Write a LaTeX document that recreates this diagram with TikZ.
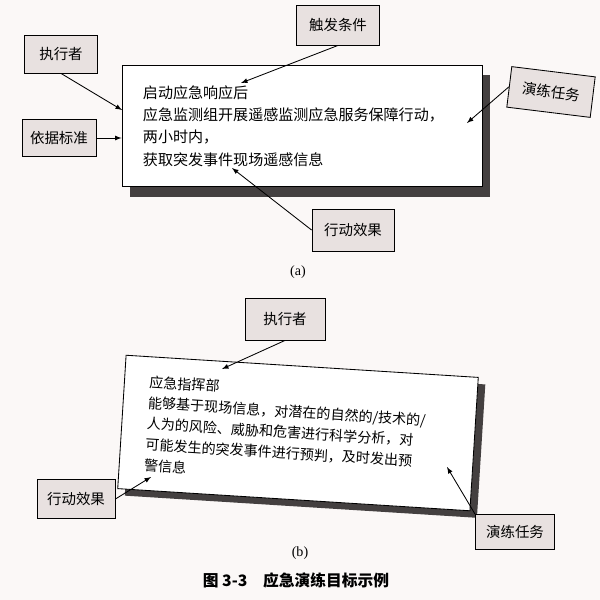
\documentclass[tikz,border=0pt]{standalone}
\usepackage{fontspec}
\setmainfont{Liberation Serif}
\newfontfamily\cjk{Noto Sans CJK SC}
\usetikzlibrary{shadows}
\definecolor{tagfill}{RGB}{232,225,224}
\definecolor{shadowgray}{RGB}{68,64,64}
\definecolor{paper}{RGB}{251,248,247}

\begin{document}
\begin{tikzpicture}[>=latex, x=0.025cm, y=-0.025cm,
    tagbox/.style={draw, line width=0.6pt, fill=tagfill, inner sep=0pt,
        minimum width=1.95cm, minimum height=0.98cm,
        font=\cjk\fontsize{10.3}{12}\selectfont},
    mainbox/.style={draw, line width=0.6pt, fill=white, align=left,
        font=\cjk\fontsize{10.7}{15.9}\selectfont},
    arr/.style={->, line width=0.6pt}]
    % 0. Nền giấy
    \fill[paper] (0,0) rectangle (600,600);

    % 1. Khung chính (a)
    \node[mainbox, general shadow={fill=shadowgray, shadow xshift=5.7pt, shadow yshift=-7.1pt},
        minimum width=9cm, minimum height=3.03cm, text width=7.95cm, inner xsep=0.525cm]
        (boxa) at (302,126) {启动应急响应后\\应急监测组开展遥感监测应急服务保障行动，\\两小时内，\\获取突发事件现场遥感信息};

    % 2. Các nhãn (a)
    \node[tagbox, minimum width=1.83cm, minimum height=0.95cm] (zxa) at (61,54) {执行者};
    \node[tagbox, minimum width=1.85cm, minimum height=0.93cm] (yj) at (59,138) {依据标准};
    \node[tagbox, minimum width=2.08cm, minimum height=1cm] (cf) at (338,25) {触发条件};
    \node[tagbox, minimum width=2.1cm, minimum height=1.02cm, rotate=-7] (ylrwa) at (551,92) {演练任务};
    \node[tagbox, minimum width=2.05cm, minimum height=1.05cm] (xda) at (353,230) {行动效果};
    \node (capa) at (298,272) {(a)};

    % 3. Mũi tên (a)
    \coordinate (p1) at (122,110);
    \coordinate (p3) at (241,83);
    \coordinate (p4) at (467,123);
    \coordinate (p5) at (232,168);
    \draw[arr] (zxa.south) -- (p1);
    \draw[arr] (yj.east) -- (yj.east -| boxa.west);
    \draw[arr] (cf.south) -- (p3);
    \draw[arr] (ylrwa.west) -- (p4);
    \draw[arr] (xda.west) -- (p5);

    % 4. Khung chính (b)
    \node[mainbox, general shadow={fill=shadowgray, shadow xshift=5pt, shadow yshift=-5pt},
        font=\cjk\fontsize{10}{14.8}\selectfont, rotate=-3.6,
        minimum width=8.82cm, minimum height=3.34cm, text width=7.57cm, inner xsep=0.625cm]
        (boxb) at (298,433) {应急指挥部\\能够基于现场信息，对潜在的自然的/技术的/\\人为的风险、威胁和危害进行科学分析，对\\可能发生的突发事件进行预判，及时发出预\\警信息};

    % 5. Các nhãn (b)
    \node[tagbox, minimum width=2cm, minimum height=1.05cm] (zxb) at (285,319) {执行者};
    \node[tagbox] (xdb) at (76,499) {行动效果};
    \node[tagbox, minimum width=1.98cm, minimum height=0.88cm] (ylrwb) at (515,532) {演练任务};
    \node (capb) at (300,553) {(b)};

    % 6. Mũi tên (b)
    \coordinate (q1) at (222,369);
    \coordinate (q2) at (151,477);
    \coordinate (q3) at (447,467);
    \draw[arr] (zxb.south) -- (q1);
    \draw[arr] (xdb.east) -- (q2);
    \draw[arr] (ylrwb.north west) -- (q3);

    % 7. Chú thích hình
    \node (cap) at (296,580) {\cjk\bfseries\fontsize{11.2}{13}\selectfont 图 3-3\quad 应急演练目标示例};
\end{tikzpicture}
\end{document}
